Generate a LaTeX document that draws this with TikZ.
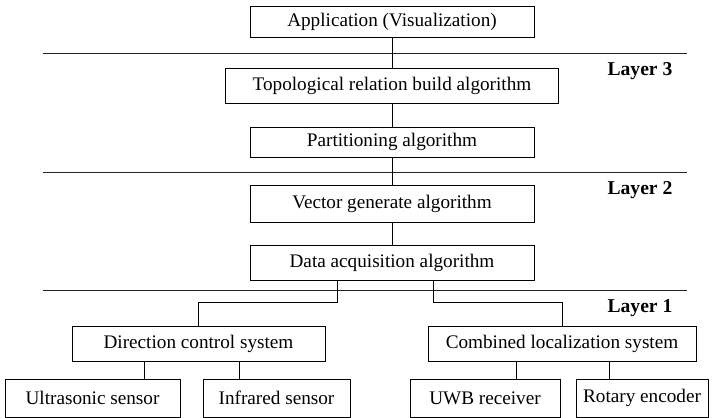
\documentclass[tikz,border=0pt]{standalone}
\usepackage{fontspec}
\setmainfont{Liberation Serif}
\usepackage{tikz}
\usetikzlibrary{
    positioning,
    calc
}
\tikzstyle{block} = [
    rectangle,
    draw=black,
    line width=0.45pt,
    minimum height=17.5pt,
    inner sep=0pt,
    text centered,
    font=\fontsize{9.6}{11}\selectfont
]
\tikzstyle{layer} = [
    font=\fontsize{9.8}{11}\selectfont\bfseries
]
\tikzstyle{link} = [
    draw=black,
    line width=0.45pt
]
\tikzstyle{divider} = [
    draw=black!85,
    line width=0.5pt
]

\begin{document}
\begin{tikzpicture}[x=0.5pt, y=-0.5pt]
        \useasboundingbox (0,0) rectangle (713,418);

        % Layer 3
        \node[block, minimum width=142pt, minimum height=15.5pt] (app) at (392,21.5) {Application (Visualization)};
        \node[block, minimum width=166.5pt] (topo) at (392,85.5) {Topological relation build algorithm};
        \node[block, minimum width=142pt, minimum height=15pt] (part) at (392,142) {Partitioning algorithm};

        % Layer 2
        \node[block, minimum width=142pt, minimum height=18.5pt] (vec) at (392,203.5) {Vector generate algorithm};
        \node[block, minimum width=142pt] (data) at (392,262.5) {Data acquisition algorithm};

        % Layer 1
        \node[block, minimum width=126.5pt] (dir) at (198.5,343.5) {Direction control system};
        \node[block, minimum width=134pt] (comb) at (562,343.5) {Combined localization system};
        \node[block, minimum width=87.5pt, minimum height=19pt] (ultra) at (92.5,398) {Ultrasonic sensor};
        \node[block, minimum width=73.5pt, minimum height=19pt] (infra) at (276.5,398) {Infrared sensor};
        \node[block, minimum width=75pt, minimum height=19pt] (uwb) at (485,398) {UWB receiver};
        \node[block, minimum width=66pt, minimum height=19pt] (rotary) at (642,398) {Rotary encoder};

        % Layer labels
        \node[layer] (l3) at (640,71) {Layer 3};
        \node[layer] (l2) at (640,190) {Layer 2};
        \node[layer] (l1) at (640,308) {Layer 1};

        % Dividers
        \draw[divider] (43,53) -- (687,53);
        \draw[divider] (43,172) -- (687,172);
        \draw[divider] (43,290) -- (687,290);

        % Links
        \draw[link] (app.south) -- (topo.north);
        \draw[link] (topo.south) -- (part.north);
        \draw[link] (part.south) -- (vec.north);
        \draw[link] (vec.south) -- (data.north);
        \draw[link] ([xshift=-27.5pt]data.south) -- ++(0,-11pt) -| (dir.north);
        \draw[link] ([xshift=20.5pt]data.south) -- ++(0,-11pt) -| (comb.north);
        \draw[link] ([xshift=-27.25pt]dir.south) -- ([xshift=-27.25pt]dir.south |- ultra.north);
        \draw[link] ([xshift=20.25pt]dir.south) -- ([xshift=20.25pt]dir.south |- infra.north);
        \draw[link] ([xshift=-23pt]comb.south) -- ([xshift=-23pt]comb.south |- uwb.north);
        \draw[link] ([xshift=23.5pt]comb.south) -- ([xshift=23.5pt]comb.south |- rotary.north);
    \end{tikzpicture}
\end{document}
